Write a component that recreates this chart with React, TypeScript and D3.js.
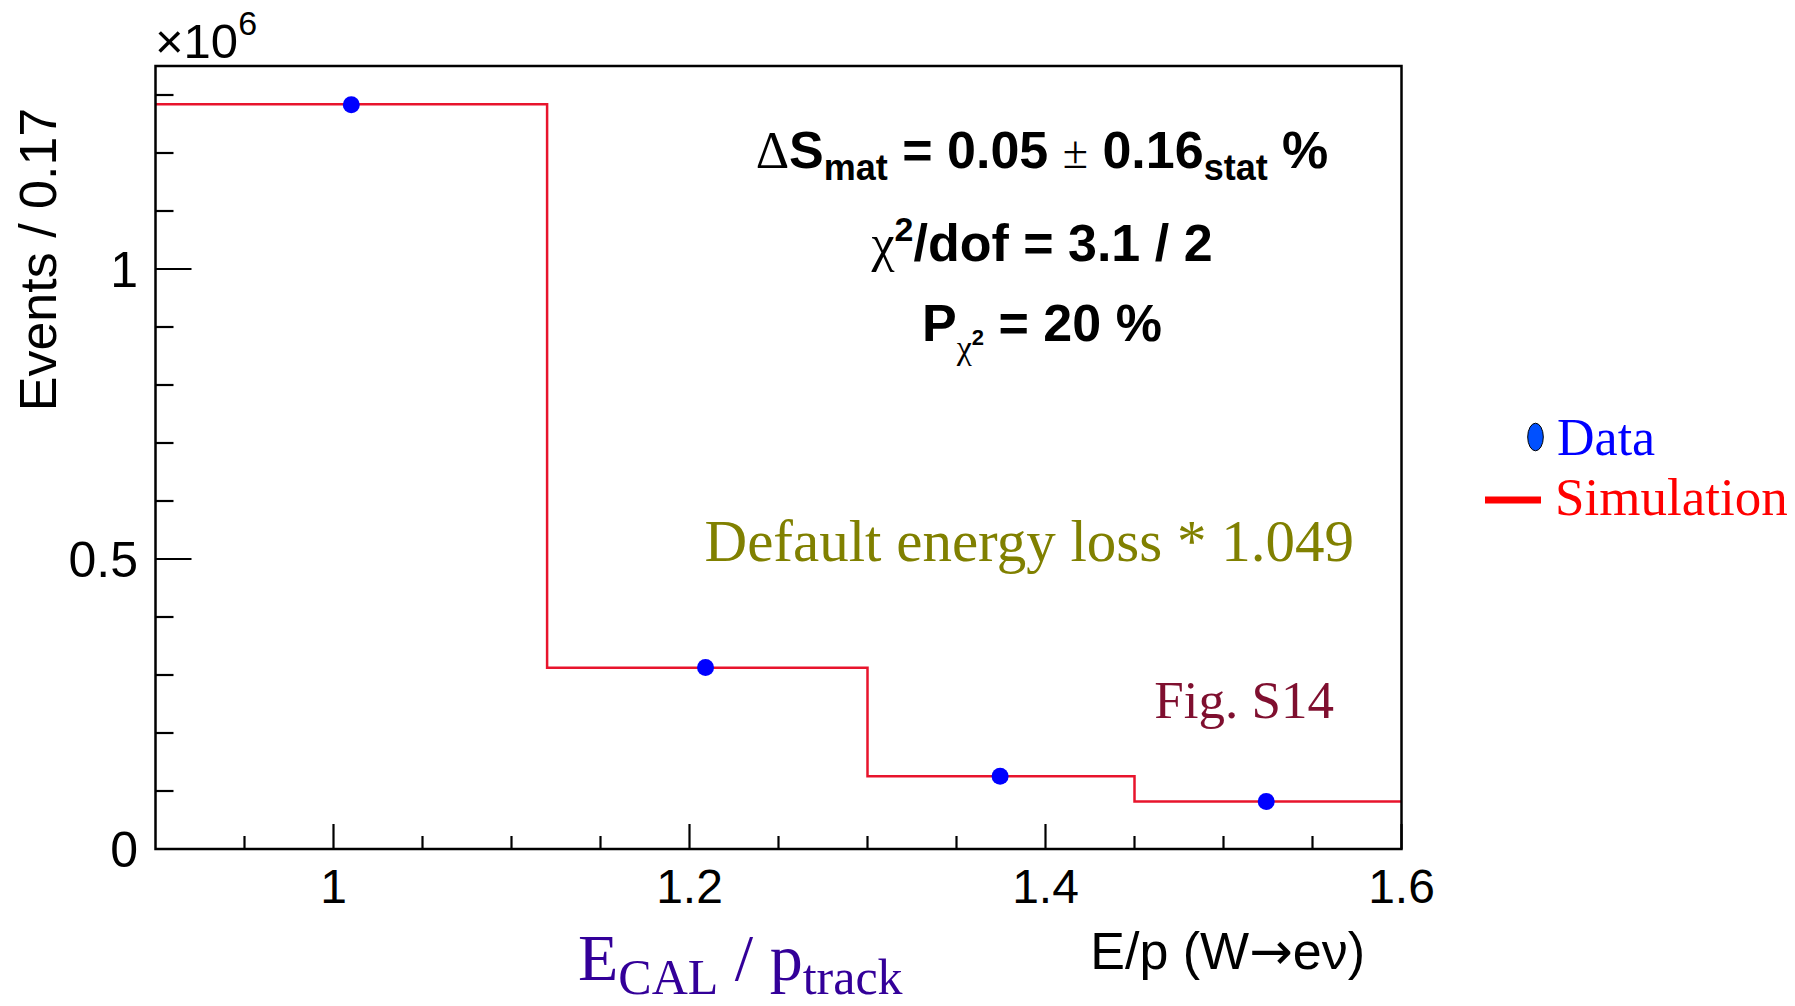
import React from 'react';
import * as d3 from 'd3';

// ---- data ----
const binEdges = [0.9, 1.12, 1.3, 1.45, 1.6];
const simCounts = [1.284, 0.3125, 0.1253, 0.0819]; // x10^6
const dataX = [1.01, 1.209, 1.3745, 1.524];
const dataY = [1.283, 0.313, 0.1255, 0.082]; // x10^6
const xMajorTicks = [1, 1.2, 1.4, 1.6];
const xTickLabels = ['1', '1.2', '1.4', '1.6'];
const xMinorTicks = [0.95, 1.05, 1.1, 1.15, 1.25, 1.3, 1.35, 1.45, 1.5, 1.55];
const yMajorTicks = [0, 0.5, 1];
const yTickLabels = ['0', '0.5', '1'];
const yMinorTicks = [0.1, 0.2, 0.3, 0.4, 0.6, 0.7, 0.8, 0.9, 1.1, 1.2, 1.3];
const xDomain = [0.9, 1.6];
const yDomain = [0, 1.35];

const SANS = "'Liberation Sans', Arial, Helvetica, sans-serif";
const SERIF = "'Liberation Serif', 'Times New Roman', Times, serif";

export default function App() {
  const W = 1795, H = 1006;
  const left = 155.5, right = 1401.5, top = 66, bottom = 849;
  const x = d3.scaleLinear().domain(xDomain).range([left, right]);
  const y = d3.scaleLinear().domain(yDomain).range([bottom, top]);

  const pts: [number, number][] = binEdges.map((e, i) => [e, simCounts[Math.min(i, simCounts.length - 1)]]);
  const line = d3.line<[number, number]>()
    .x(d => x(d[0]))
    .y(d => y(d[1]))
    .curve(d3.curveStepAfter);

  return (
    <svg width={W} height={H} style={{ position: 'absolute', left: 0, top: 0, background: '#fff' }}>
      <rect x={0} y={0} width={W} height={H} fill="#fff" />
      {/* histogram */}
      <path d={line(pts) || ''} fill="none" stroke="#e8142c" strokeWidth={2.5} />
      {/* data points */}
      {dataX.map((dx, i) => (
        <circle key={i} cx={x(dx)} cy={y(dataY[i])} r={8.5} fill="#0000ff" />
      ))}
      {/* frame */}
      <rect x={left} y={top} width={right - left} height={bottom - top} fill="none" stroke="#000" strokeWidth={2.5} />
      {/* x ticks */}
      {xMajorTicks.map((t, i) => (
        <g key={'xm' + i}>
          <line x1={x(t)} x2={x(t)} y1={bottom} y2={bottom - 25} stroke="#000" strokeWidth={2.2} />
          <text x={x(t)} y={903} fontFamily={SANS} fontSize={48} textAnchor="middle">{xTickLabels[i]}</text>
        </g>
      ))}
      {xMinorTicks.map((t, i) => (
        <line key={'xn' + i} x1={x(t)} x2={x(t)} y1={bottom} y2={bottom - 13} stroke="#000" strokeWidth={2.2} />
      ))}
      {/* y ticks */}
      {yMajorTicks.map((t, i) => (
        <g key={'ym' + i}>
          <line x1={left} x2={left + 36} y1={y(t)} y2={y(t)} stroke="#000" strokeWidth={2.2} />
          <text x={138} y={y(t) + 18} fontFamily={SANS} fontSize={50} textAnchor="end">{yTickLabels[i]}</text>
        </g>
      ))}
      {yMinorTicks.map((t, i) => (
        <line key={'yn' + i} x1={left} x2={left + 18} y1={y(t)} y2={y(t)} stroke="#000" strokeWidth={2.2} />
      ))}
      {/* exponent */}
      <text x={155} y={58} fontFamily={SANS} fontSize={49}>×10<tspan dy={-23} fontSize={34}>6</tspan></text>
      {/* y title */}
      <text transform="translate(56,259.5) rotate(-90)" fontFamily={SANS} fontSize={52} textAnchor="middle">Events / 0.17</text>
      {/* x titles */}
      <text x={1365} y={969} fontFamily={SANS} fontSize={52} textAnchor="end">E/p (W<tspan fontFamily="'DejaVu Sans'" fontSize={52}>→</tspan>eν)</text>
      <text x={578} y={980} fontFamily={SERIF} fontSize={66} fill="#330099">E<tspan fontSize={50} dy={14}>CAL</tspan><tspan dy={-14}> / p</tspan><tspan fontSize={50} dy={14}>track</tspan></text>
      {/* stats */}
      <text x={1042} y={168} fontFamily={SANS} fontSize={52} fontWeight="bold" textAnchor="middle">
        <tspan fontFamily={SERIF} fontWeight="normal">Δ</tspan>S<tspan fontSize={36} dy={12}>mat</tspan><tspan dy={-12}> = 0.05   </tspan><tspan fontFamily={SERIF} fontWeight="normal" fontSize={46}>±</tspan><tspan> 0.16</tspan><tspan fontSize={36} dy={12}>stat</tspan><tspan dy={-12}>  %</tspan>
      </text>
      <text x={1042} y={261} fontFamily={SANS} fontSize={52} fontWeight="bold" textAnchor="middle">
        <tspan fontFamily={SERIF} fontWeight="normal">χ</tspan><tspan fontSize={34} dy={-20}>2</tspan><tspan dy={20}>/dof = 3.1 / 2</tspan>
      </text>
      <text x={1042} y={341} fontFamily={SANS} fontSize={52} fontWeight="bold" textAnchor="middle">
        P<tspan fontFamily={SERIF} fontWeight="normal" fontSize={34} dy={18}>χ</tspan><tspan fontSize={22} dy={-14}>2</tspan><tspan dy={-4}> = 20 %</tspan>
      </text>
      {/* annotations */}
      <text x={1354} y={561} fontFamily={SERIF} fontSize={59} fill="#808000" textAnchor="end">Default energy loss * 1.049</text>
      <text x={1334} y={718} fontFamily={SERIF} fontSize={53} fill="#7f0f2f" textAnchor="end">Fig. S14</text>
      {/* legend */}
      <ellipse cx={1535.5} cy={437} rx={7.8} ry={13.8} fill="#0050ff" stroke="#000" strokeWidth={1} />
      <text x={1557} y={455} fontFamily={SERIF} fontSize={52} fill="#0000ff">Data</text>
      <line x1={1485} x2={1541} y1={500} y2={500} stroke="#ff0000" strokeWidth={7} />
      <text x={1555} y={515} fontFamily={SERIF} fontSize={53} fill="#ff0000">Simulation</text>
    </svg>
  );
}
